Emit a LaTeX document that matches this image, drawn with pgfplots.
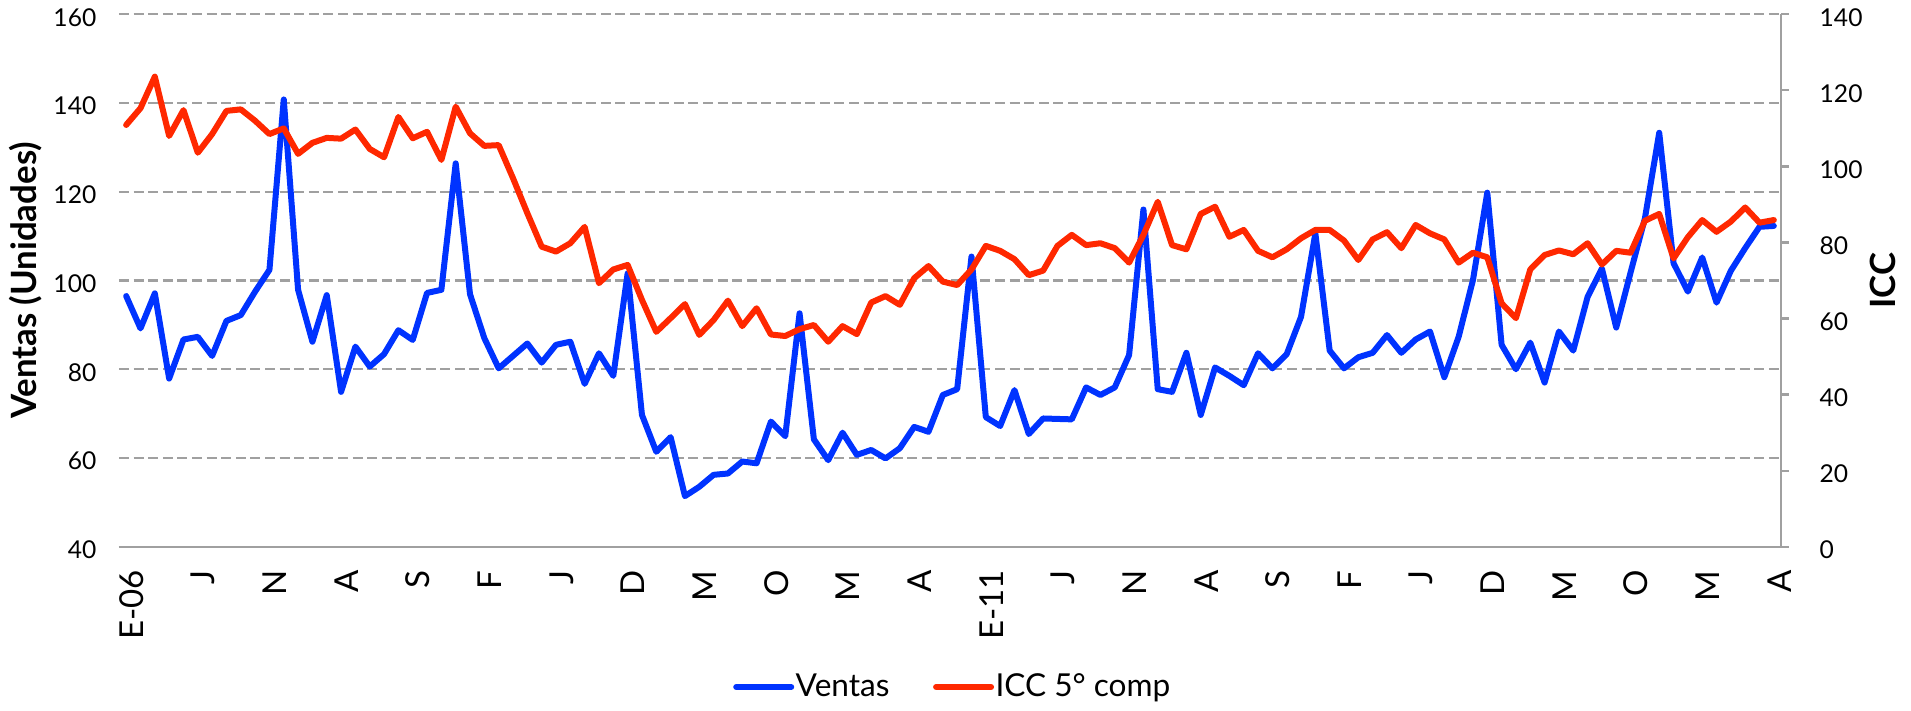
\documentclass[border=0pt]{standalone}
\usepackage{fontspec}
\setmainfont{Lato}
\usepackage{pgfplots}
\usepackage{pgfplotstable}
\pgfplotsset{compat=1.18}
\definecolor{ventas}{RGB}{0,51,255}
\definecolor{icc}{RGB}{255,40,0}
\definecolor{axgray}{RGB}{160,160,160}

\pgfplotstableread{
i v c
0 96.5 110.9
1 89.2 115.3
2 97.1 123.6
3 77.9 108.0
4 86.7 114.8
5 87.3 103.6
6 83.0 108.5
7 90.9 114.6
8 92.2 115.0
9 97.5 112.0
10 102.4 108.5
11 140.8 110.0
12 97.9 103.3
13 86.2 106.2
14 96.7 107.5
15 74.9 107.3
16 85.1 109.7
17 80.6 104.6
18 83.4 102.4
19 88.8 113.0
20 86.6 107.4
21 97.2 109.1
22 97.9 101.7
23 126.4 115.7
24 96.9 108.7
25 87.0 105.4
26 80.2 105.6
27 83.0 96.9
28 85.8 87.7
29 81.5 78.9
30 85.5 77.6
31 86.2 79.8
32 76.7 84.1
33 83.6 69.3
34 78.5 72.9
35 101.6 74.1
36 69.7 64.9
37 61.4 56.5
38 64.7 60.1
39 51.4 63.8
40 53.5 55.7
41 56.2 59.6
42 56.5 64.7
43 59.2 58.0
44 58.8 62.7
45 68.2 55.8
46 64.9 55.4
47 92.6 57.2
48 64.2 58.3
49 59.5 53.9
50 65.7 58.0
51 60.7 55.9
52 61.8 64.2
53 59.9 65.9
54 62.2 63.6
55 67.0 70.6
56 65.9 73.8
57 74.2 69.7
58 75.5 68.8
59 105.4 72.9
60 69.2 79.1
61 67.2 77.8
62 75.3 75.6
63 65.4 71.4
64 68.9 72.6
65 68.8 79.1
66 68.7 82.0
67 75.9 79.3
68 74.2 79.8
69 75.9 78.5
70 83.2 74.7
71 116.0 82.0
72 75.5 90.7
73 74.9 79.3
74 83.7 78.2
75 69.7 87.5
76 80.4 89.4
77 78.5 81.5
78 76.4 83.3
79 83.6 77.8
80 80.2 76.1
81 83.4 78.2
82 91.8 81.1
83 110.6 83.3
84 84.2 83.3
85 80.2 80.5
86 82.7 75.4
87 83.7 80.8
88 87.7 82.7
89 83.7 78.5
90 86.7 84.6
91 88.5 82.4
92 78.2 80.8
93 87.3 74.7
94 100.1 77.3
95 119.8 76.1
96 85.5 64.0
97 80.0 60.1
98 86.0 72.9
99 77.0 76.7
100 88.5 77.9
101 84.2 76.9
102 96.3 79.8
103 102.7 74.2
104 89.4 77.8
105 101.8 77.3
106 114.0 85.7
107 133.3 87.5
108 103.9 75.8
109 97.5 81.4
110 105.2 85.9
111 95.0 82.8
112 102.2 85.5
113 107.3 89.2
114 112.1 85.2
115 112.3 85.9
}\datatable

\begin{document}
\begin{tikzpicture}
\path[use as bounding box] (-59.5pt,-82.15pt) rectangle (896pt,273.35pt);
\pgfplotsset{
  common/.style={
    at={(0pt,0pt)}, anchor=south west, scale only axis,
    width=831pt, height=266.2pt,
    xmin=-0.5, xmax=115.5,
    /pgf/number format/assume math mode=true,
    clip=false,
  },
}
\begin{axis}[common,
  ymin=40, ymax=160, ytick={40,60,80,100,120,140,160},
  axis x line*=bottom, axis y line*=left,
  x axis line style={draw=axgray, line width=1.1pt, -},
  y axis line style={draw=none},
  major tick length=0pt,
  ymajorgrids,
  grid style={draw=axgray, line width=1.1pt, dash pattern=on 5pt off 2.3pt},
  xtick={0.38,5.38,10.38,15.38,20.38,25.38,30.38,35.38,40.38,45.38,50.38,55.38,60.38,65.38,70.38,75.38,80.38,85.38,90.38,95.38,100.38,105.38,110.38,115.38},
  xticklabels={E-06,J,N,A,S,F,J,D,M,O,M,A,E-11,J,N,A,S,F,J,D,M,O,M,A},
  xticklabel style={rotate=90, anchor=east, inner sep=0pt, font=\fontsize{16.5}{16.5}\selectfont},
  xticklabel shift=11.65pt,
  yticklabel style={anchor=east, inner sep=0pt, font=\fontsize{12.3}{12.3}\selectfont, yshift=-1.5pt},
  yticklabel shift=11.15pt,
  every axis y label/.style={at={(axis description cs:-0.04934,0.5)}, rotate=90, anchor=base, font=\fontsize{17.4}{17.4}\selectfont\bfseries},
  ylabel={Ventas (Unidades)},
]
\addplot[ventas, line width=3pt, line join=round, line cap=round, no markers] table[x=i, y=v] {\datatable};
\end{axis}
\begin{axis}[common,
  ymin=0, ymax=140, ytick={0,20,40,60,80,100,120,140},
  axis x line=none, axis y line*=right,
  y axis line style={draw=axgray, line width=1.1pt, -},
  ytick style={draw=axgray, line width=1.1pt},
  tick align=outside, major tick length=3.85pt,
  yticklabel style={anchor=west, inner sep=0pt, font=\fontsize{12.3}{12.3}\selectfont, yshift=-1.5pt},
  yticklabel shift=15.3pt,
  every axis y label/.style={at={(axis description cs:1.0686,0.5)}, rotate=90, anchor=base, font=\fontsize{17.4}{17.4}\selectfont\bfseries},
  ylabel={ICC},
  legend style={at={(axis description cs:0.5015,-0.2635)}, anchor=center, draw=none, fill=none,
    legend columns=2, font=\fontsize{15.8}{15.8}\selectfont,
    nodes={inner xsep=0.75pt, inner ysep=1pt},
    /tikz/every even column/.append style={column sep=21pt}},
  legend cell align=left,
  legend image code/.code={\draw[#1, line cap=round] (0pt,0pt) -- (27.5pt,0pt);},
]
\addlegendimage{ventas, line width=3pt}
\addlegendentry{Ventas}
\addplot[icc, line width=3pt, line join=round, line cap=round, no markers] table[x=i, y=c] {\datatable};
\addlegendentry{ICC 5° comp}
\end{axis}
\end{tikzpicture}
\end{document}
